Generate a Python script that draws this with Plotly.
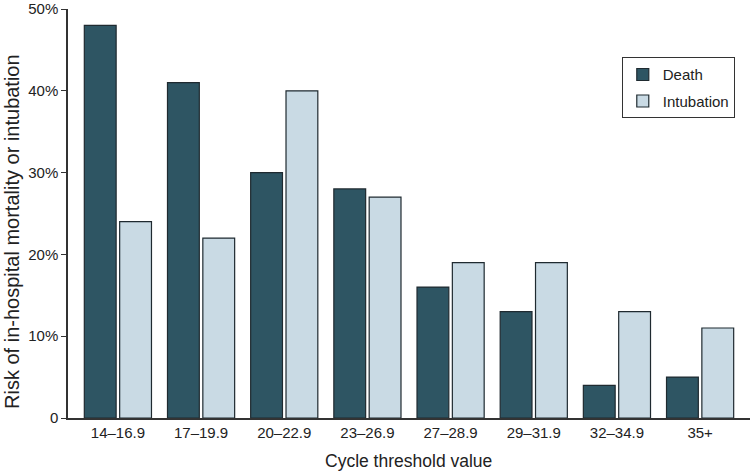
import plotly.graph_objects as go

categories = ["14–16.9", "17–19.9", "20–22.9", "23–26.9", "27–28.9", "29–31.9", "32–34.9", "35+"]
death = [48, 41, 30, 28, 16, 13, 4, 5]
intubation = [24, 22, 40, 27, 19, 19, 13, 11]
tick_vals = [0, 10, 20, 30, 40, 50]
tick_text = ["0", "10%", "20%", "30%", "40%", "50%"]

font_family = "Liberation Sans, Arial, sans-serif"

fig = go.Figure()
fig.add_trace(go.Bar(x=categories, y=death, name="Death", legendgroup="d",
                     marker=dict(color="#2e5563", line=dict(color="#1f2a30", width=1.2))))
fig.add_trace(go.Bar(x=categories, y=intubation, name="Intubation", legendgroup="i",
                     marker=dict(color="#c9dae4", line=dict(color="#1f2a30", width=1.2))))

fig.update_layout(
    width=750, height=473,
    margin=dict(l=68, r=0, t=9, b=55, autoexpand=False),
    paper_bgcolor="white", plot_bgcolor="white",
    barmode="group", bargap=0.15, bargroupgap=0.1,
    font=dict(family=font_family, color="#222", size=15),
    legend=dict(x=0.812, y=0.882, xanchor="left", yanchor="top",
                bordercolor="#333", borderwidth=1, bgcolor="white",
                font=dict(size=15), tracegroupgap=4,
                itemwidth=30),
    showlegend=True,
    annotations=[
        dict(text="Risk of in-hospital mortality or intubation", textangle=-90,
             xref="paper", yref="paper", x=-0.082, y=0.455,
             xanchor="center", yanchor="middle", showarrow=False,
             font=dict(size=20)),
        dict(text="Cycle threshold value",
             xref="paper", yref="paper", x=(408 - 68) / 682, y=-(461 - 418) / 409,
             xanchor="center", yanchor="middle", showarrow=False,
             font=dict(size=17.5)),
    ],
)
fig.update_xaxes(
    range=[-0.6, 7.6], showline=True, linecolor="#333", linewidth=1.5,
    ticks="", showgrid=False, tickfont=dict(size=15), automargin=False,
)
fig.update_yaxes(
    range=[0, 50], showline=True, linecolor="#333", linewidth=1.5,
    ticks="outside", ticklen=5, tickcolor="#333",
    tickvals=tick_vals, ticktext=tick_text, showgrid=False, zeroline=False,
    tickfont=dict(size=15), automargin=False, ticklabeloverflow="allow",
)

fig.write_html("out.html", config={"displayModeBar": False},
               post_script="document.body.style.margin='0';")
